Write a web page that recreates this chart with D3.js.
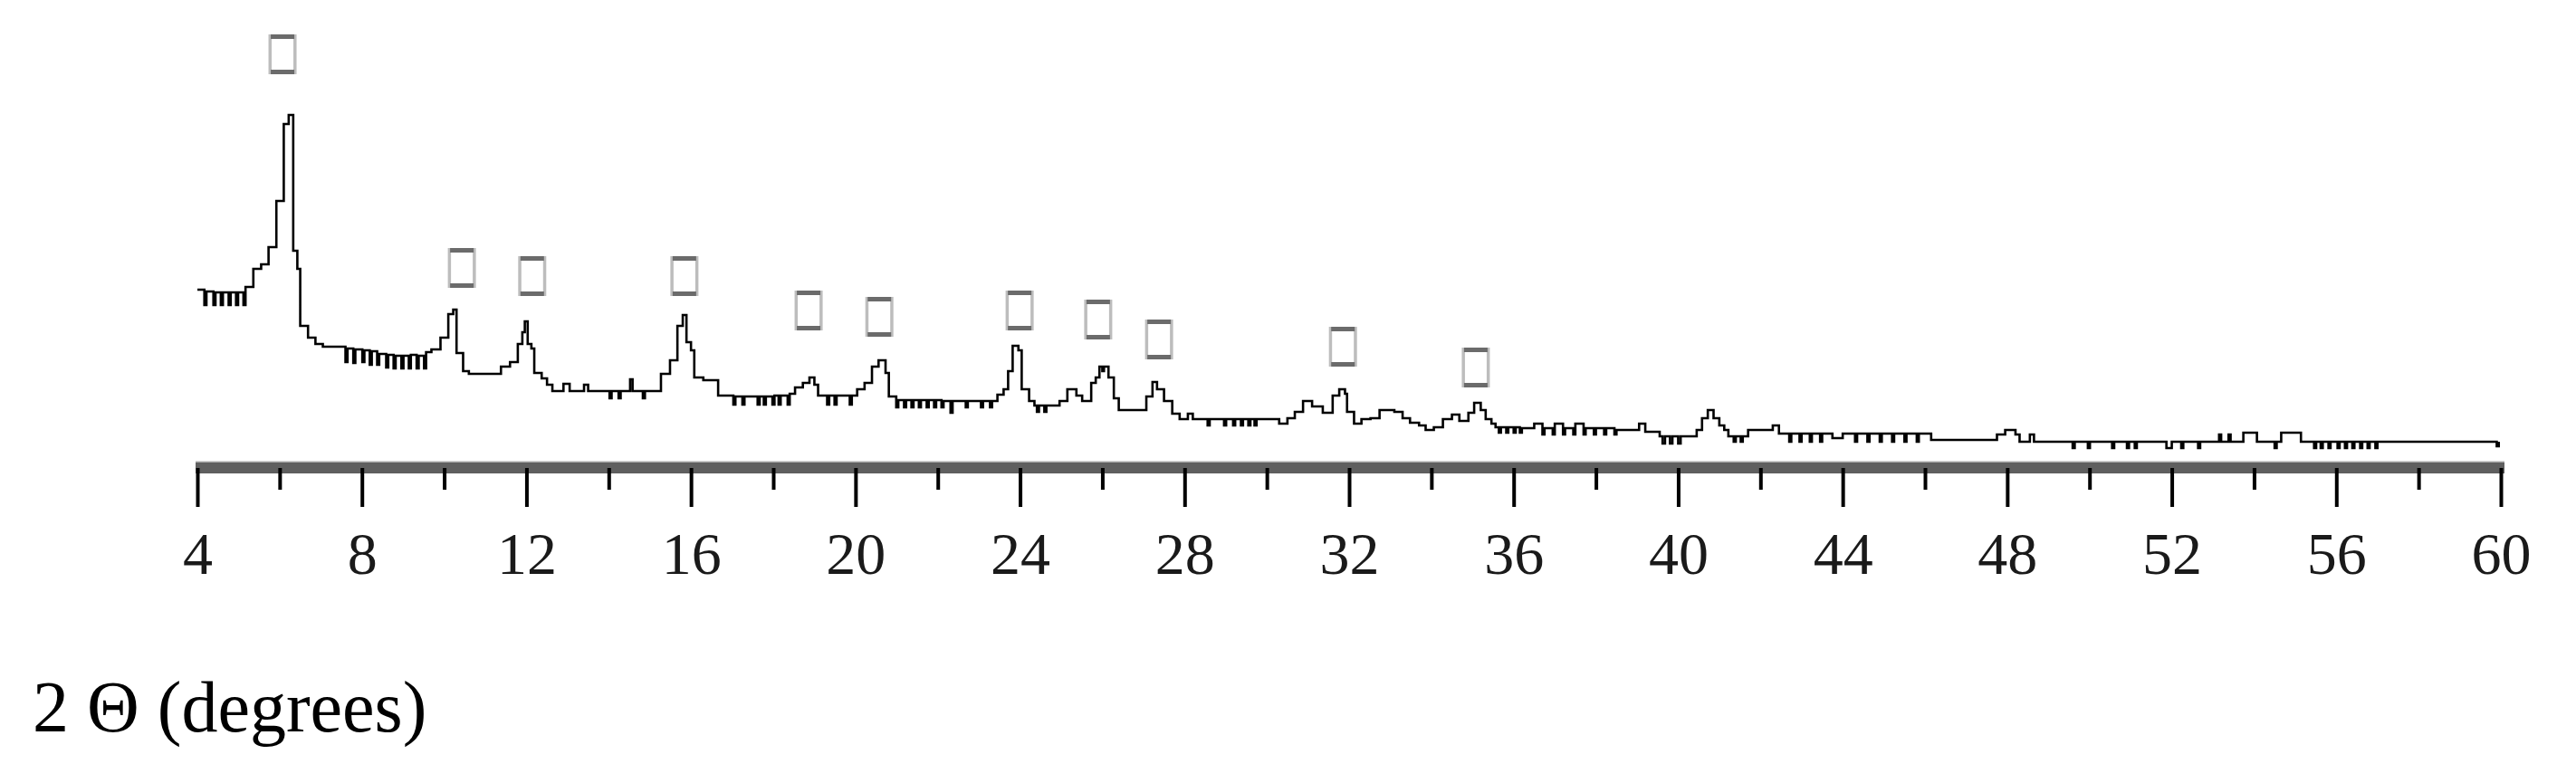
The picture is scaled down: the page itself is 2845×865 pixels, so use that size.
<!DOCTYPE html>
<html>
<head>
<meta charset="utf-8">
<script src="https://cdn.jsdelivr.net/npm/d3@7"></script>
<style>
  html, body { margin: 0; padding: 0; background: #ffffff; }
  svg { display: block; }
</style>
</head>
<body>
<svg id="chart" width="2845" height="865"></svg>
<script>
// ---------------- data ----------------
// 2θ positions (degrees) where the step trace changes level
const twoTheta = [
  4.00, 4.17, 4.22, 4.39, 4.44, 4.57, 4.62, 4.76, 4.81, 4.94, 4.99, 5.12, 5.17,
  5.36, 5.55, 5.73, 5.92, 6.10, 6.22, 6.33, 6.43, 6.50, 6.69, 6.87, 7.05, 7.30,
  7.60, 7.65, 7.79, 7.84, 8.01, 8.06, 8.19, 8.24, 8.37, 8.42, 8.59, 8.64, 8.77, 8.82,
  8.96, 9.01, 9.14, 9.19, 9.33, 9.38, 9.51, 9.56, 9.69, 9.91, 10.10, 10.22, 10.30,
  10.46, 10.60, 11.38, 11.60, 11.79, 11.90, 11.96, 12.03, 12.12, 12.19, 12.37, 12.50,
  12.63, 12.90, 13.05, 13.40, 13.50, 14.02, 14.07, 14.24, 14.29, 14.52, 14.58, 14.83,
  14.88, 15.27, 15.49, 15.67, 15.80, 15.89, 16.00, 16.08, 16.30, 16.66, 17.03, 17.08,
  17.25, 17.30, 17.62, 17.67, 17.77, 17.82, 17.98, 18.03, 18.13, 18.18, 18.35, 18.40,
  18.53, 18.72, 18.88, 19.00, 19.09, 19.31, 19.36, 19.49, 19.54, 19.86, 19.91, 20.04,
  20.22, 20.40, 20.56, 20.73, 20.81, 20.99, 21.04, 21.18, 21.23, 21.36, 21.41, 21.54,
  21.59, 21.73, 21.78, 21.91, 21.96, 22.09, 22.14, 22.31, 22.36, 22.68, 22.73, 23.05,
  23.10, 23.27, 23.32, 23.45, 23.60, 23.71, 23.82, 23.96, 24.04, 24.22, 24.35, 24.41,
  24.46, 24.59, 24.64, 24.96, 25.15, 25.37, 25.51, 25.73, 25.84, 25.93, 26.00, 26.04,
  26.15, 26.28, 26.40, 27.07, 27.22, 27.33, 27.50, 27.70, 27.88, 28.08, 28.20, 28.56,
  28.61, 28.96, 29.01, 29.18, 29.23, 29.37, 29.42, 29.55, 29.60, 29.70, 29.75, 30.30,
  30.50, 30.68, 30.88, 31.10, 31.36, 31.60, 31.76, 31.90, 31.95, 32.12, 32.30, 32.52,
  32.74, 33.10, 33.30, 33.48, 33.70, 33.86, 34.06, 34.28, 34.50, 34.68, 34.90, 35.04,
  35.20, 35.32, 35.46, 35.56, 35.64, 35.69, 35.82, 35.87, 36.00, 36.05, 36.15, 36.20,
  36.50, 36.70, 36.75, 36.95, 37.00, 37.20, 37.25, 37.45, 37.50, 37.70, 37.75, 37.95,
  38.00, 38.20, 38.25, 38.45, 38.50, 39.05, 39.20, 39.55, 39.62, 39.68, 39.80, 39.86,
  40.00, 40.06, 40.45, 40.58, 40.72, 40.86, 41.00, 41.12, 41.22, 41.35, 41.40, 41.52,
  41.57, 41.70, 42.30, 42.45, 42.70, 42.75, 42.95, 43.00, 43.20, 43.25, 43.45, 43.50,
  43.75, 44.00, 44.30, 44.35, 44.60, 44.65, 44.90, 44.95, 45.20, 45.25, 45.50, 45.55,
  45.80, 45.85, 46.15, 47.75, 47.95, 48.20, 48.30, 48.55, 48.65, 49.59, 49.64, 49.96,
  50.01, 50.55, 50.60, 50.91, 50.96, 51.10, 51.15, 51.87, 52.00, 52.23, 52.28, 52.64,
  52.69, 53.15, 53.20, 53.38, 53.43, 53.74, 54.07, 54.50, 54.55, 54.66, 55.14, 55.46,
  55.51, 55.62, 55.67, 55.81, 55.86, 56.03, 56.08, 56.21, 56.26, 56.39, 56.44, 56.58,
  56.63, 56.76, 56.81, 56.95, 57.00, 59.90, 59.95
];
// intensity (arbitrary units) at each 2θ position above
const intensity = [
  193, 176, 191, 176, 190, 176, 190, 176, 190, 176, 190, 176, 196,
  216, 221, 240, 291, 376, 386, 236, 216, 153, 140, 133, 130, 130,
  113, 128, 112, 127, 113, 126, 110, 125, 110, 122, 107, 121, 106, 120,
  106, 120, 106, 121, 106, 120, 106, 124, 127, 140, 166, 171, 123,
  103, 100, 108, 113, 133, 146, 158, 133, 128, 101, 95, 88,
  81, 89, 81, 88, 81, 73, 81, 73, 81, 94, 81, 73,
  81, 100, 115, 153, 165, 135, 126, 96, 93, 76, 66, 75,
  66, 75, 66, 75, 66, 75, 66, 76, 66, 76, 66, 78,
  85, 90, 96, 88, 76, 66, 76, 66, 76, 66, 76, 83,
  90, 108, 115, 101, 75, 63, 71, 63, 71, 63, 71, 63,
  71, 63, 71, 63, 71, 63, 70, 57, 70, 63, 70, 63,
  70, 63, 70, 77, 83, 103, 131, 126, 83, 70, 65, 58,
  65, 58, 65, 70, 83, 76, 70, 90, 96, 108, 103, 108,
  96, 73, 60, 75, 91, 83, 70, 56, 50, 56, 50, 43,
  50, 43, 50, 43, 50, 43, 50, 43, 50, 43, 50, 45,
  51, 58, 70, 64, 57, 76, 83, 78, 58, 45, 50, 51,
  60, 58, 51, 46, 43, 38, 41, 50, 55, 48, 57, 68,
  60, 50, 45, 41, 35, 41, 35, 41, 35, 41, 35, 40,
  45, 33, 40, 33, 45, 33, 40, 33, 45, 33, 40, 33,
  40, 33, 40, 33, 38, 45, 36, 31, 23, 31, 23, 31,
  23, 31, 38, 51, 60, 51, 43, 38, 31, 25, 31, 25,
  31, 38, 43, 34, 25, 34, 25, 34, 25, 34, 25, 34,
  29, 34, 25, 34, 25, 34, 25, 34, 25, 34, 25, 34,
  25, 34, 27, 33, 38, 33, 25, 33, 25, 18, 25, 18,
  25, 18, 25, 18, 25, 18, 25, 18, 25, 18, 25, 18,
  25, 33, 25, 33, 25, 35, 25, 18, 25, 35, 25, 18,
  25, 18, 25, 18, 25, 18, 25, 18, 25, 18, 25, 18,
  25, 18, 25, 18, 25, 20, 25
];

// peak markers (2θ, level of the marker box in intensity units)
const markerTheta = [6.07, 10.43, 12.14, 15.84, 18.86, 20.58, 23.99, 25.90, 27.38, 31.85, 35.08];
const markerLevel = [453, 217, 208, 208, 170, 163, 170, 160, 138, 130, 107];

// axis ticks
const majorTicks = [4, 8, 12, 16, 20, 24, 28, 32, 36, 40, 44, 48, 52, 56, 60];
const minorTicks = [6, 10, 14, 18, 22, 26, 30, 34, 38, 42, 46, 50, 54, 58];
const xTitle = "2 Θ (degrees)";

// ---------------- drawing ----------------
const svg = d3.select("#chart");
svg.append("rect").attr("width", 2845).attr("height", 865).attr("fill", "#ffffff");

const x = d3.scaleLinear().domain([4, 60]).range([218, 2762]);
const y = d3.scaleLinear().domain([0, 420]).range([513, 93]);

const points = twoTheta.map((t, i) => [t, intensity[i]]);

// trace
const line = d3.line()
  .x(d => x(d[0]))
  .y(d => y(d[1]))
  .curve(d3.curveStepAfter);

svg.append("path")
  .datum(points)
  .attr("d", line)
  .attr("fill", "none")
  .attr("stroke", "#000000")
  .attr("stroke-width", 2.6)
  .attr("stroke-linejoin", "miter");

// peak markers (empty boxes)
const bw = 31, bh = 44;
const mk = svg.append("g").selectAll("g")
  .data(markerTheta.map((t, i) => [t, markerLevel[i]]))
  .join("g")
  .attr("transform", d => `translate(${x(d[0]) - bw / 2},${y(d[1]) - bh / 2})`);
mk.append("rect").attr("x", 0).attr("y", 0).attr("width", 3.5).attr("height", bh).attr("fill", "#bdbdbd");
mk.append("rect").attr("x", bw - 3.5).attr("y", 0).attr("width", 3.5).attr("height", bh).attr("fill", "#bdbdbd");
mk.append("rect").attr("x", 2.5).attr("y", 0).attr("width", bw - 5).attr("height", 5).attr("fill", "#6b6b6b");
mk.append("rect").attr("x", 2.5).attr("y", bh - 5).attr("width", bw - 5).attr("height", 5).attr("fill", "#6b6b6b");

// axis bar
svg.append("rect")
  .attr("x", x(4) - 2).attr("y", 510)
  .attr("width", x(60) - x(4) + 6).attr("height", 13)
  .attr("fill", "#5f5f5f");
svg.append("rect")
  .attr("x", x(4) - 2).attr("y", 509.5)
  .attr("width", x(60) - x(4) + 6).attr("height", 1.5)
  .attr("fill", "#a8a8a8");

// minor ticks
const minorAxis = svg.append("g")
  .attr("transform", "translate(0,517)")
  .call(d3.axisBottom(x).tickValues(minorTicks).tickSize(24).tickFormat(""));
minorAxis.select(".domain").remove();
minorAxis.selectAll(".tick line").attr("stroke", "#000").attr("stroke-width", 4);

// major ticks + labels
const majorAxis = svg.append("g")
  .attr("transform", "translate(0,517)")
  .call(d3.axisBottom(x).tickValues(majorTicks).tickSize(43).tickFormat(d3.format("d")));
majorAxis.select(".domain").remove();
majorAxis.selectAll(".tick line").attr("stroke", "#000").attr("stroke-width", 4);
majorAxis.selectAll(".tick text")
  .attr("y", 117).attr("dy", null)
  .attr("fill", "#1a1a1a")
  .style("font-family", "'Liberation Serif', 'DejaVu Serif', serif")
  .style("font-size", "66px");

// axis title
svg.append("text")
  .attr("x", 36).attr("y", 808)
  .attr("fill", "#000")
  .style("font-family", "'Liberation Serif', 'Times New Roman', serif")
  .style("font-size", "80px")
  .text(xTitle);
</script>
</body>
</html>
